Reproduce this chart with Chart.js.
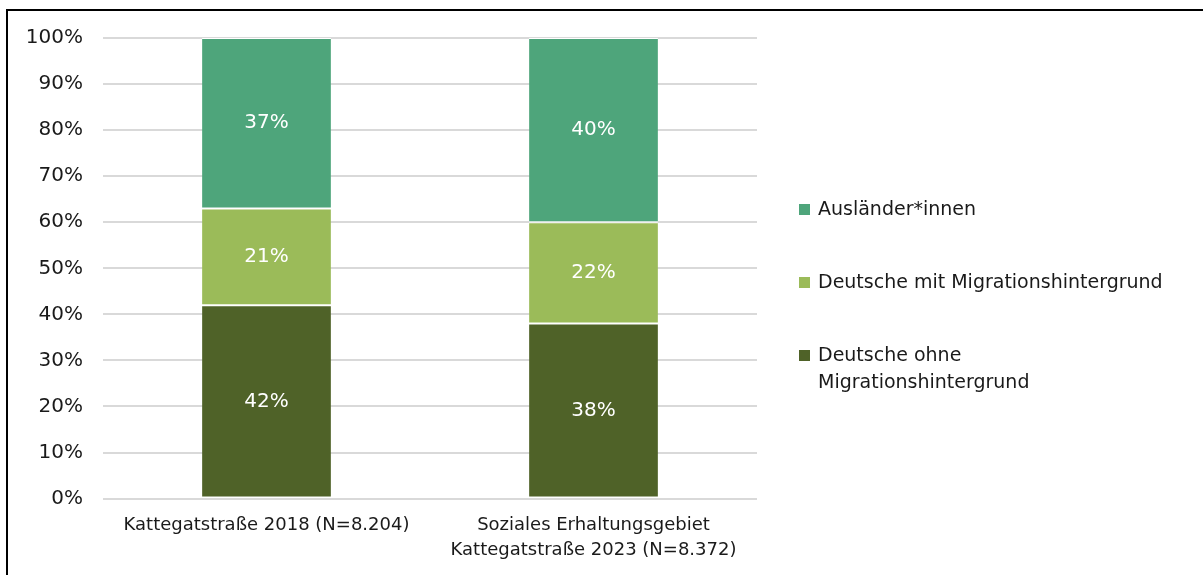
<!DOCTYPE html>
<html lang="de">
<head>
    <meta charset="UTF-8">
    <title>Bevölkerung nach Migrationshintergrund</title>
    <script src="https://cdn.jsdelivr.net/npm/chart.js"></script>
    <style>
        html, body {
            margin: 0;
            padding: 0;
            background: #ffffff;
            width: 1203px;
            height: 575px;
            overflow: hidden;
            font-family: "DejaVu Sans", sans-serif;
        }
        .frame {
            position: absolute;
            left: 6px;
            top: 9px;
            width: 1300px;
            height: 700px;
            border-top: 2px solid #000;
            border-left: 2px solid #000;
        }
        .chart-box {
            position: absolute;
            left: 0;
            top: 0;
            width: 1203px;
            height: 575px;
        }
        #legend {
            position: absolute;
            left: 799px;
            top: 195px;
            font-size: 19px;
            color: #1a1a1a;
        }
        #legend .item {
            display: flex;
            align-items: flex-start;
            margin-bottom: 46px;
            line-height: 27px;
        }
        #legend .box {
            width: 11px;
            height: 11px;
            margin-top: 9px;
            margin-right: 8px;
            flex: none;
        }
    </style>
</head>
<body>
    <div class="frame"></div>
    <div class="chart-box">
        <canvas id="chart" width="1203" height="575"></canvas>
    </div>
    <div id="legend"></div>

    <script>
        // Data
        const categories = [
            ['Kattegatstraße 2018 (N=8.204)'],
            ['Soziales Erhaltungsgebiet', 'Kattegatstraße 2023 (N=8.372)']
        ];
        const ohneMigration = [42, 38];
        const mitMigration = [21, 22];
        const auslaender = [37, 40];
        const yTicks = [0, 10, 20, 30, 40, 50, 60, 70, 80, 90, 100];

        const seriesNames = ['Deutsche ohne Migrationshintergrund', 'Deutsche mit Migrationshintergrund', 'Ausländer*innen'];
        const seriesColors = ['#4f6228', '#9bbb59', '#4ea57b'];
        const legendTexts = [['Deutsche ohne', 'Migrationshintergrund'], ['Deutsche mit Migrationshintergrund'], ['Ausländer*innen']];

        const fontFamily = '"DejaVu Sans", sans-serif';

        // Draws the value labels in the middle of each segment
        const segmentLabels = {
            id: 'segmentLabels',
            afterDatasetsDraw(chart) {
                const ctx = chart.ctx;
                ctx.save();
                ctx.fillStyle = '#ffffff';
                ctx.font = '20px ' + fontFamily;
                ctx.textAlign = 'center';
                ctx.textBaseline = 'middle';
                chart.data.datasets.forEach((ds, i) => {
                    chart.getDatasetMeta(i).data.forEach((bar, j) => {
                        const mid = (bar.y + bar.base) / 2;
                        ctx.fillText(ds.data[j] + '%', bar.x, mid);
                    });
                });
                ctx.restore();
            }
        };

        const allSeries = [ohneMigration, mitMigration, auslaender];

        const chart = new Chart(document.getElementById('chart'), {
            type: 'bar',
            data: {
                labels: categories,
                datasets: allSeries.map((values, i) => ({
                    label: seriesNames[i],
                    data: values,
                    backgroundColor: seriesColors[i],
                    borderColor: '#ffffff',
                    borderWidth: { top: 1, bottom: 1, left: 0, right: 0 },
                    borderSkipped: false,
                    categoryPercentage: 1,
                    barPercentage: 0.394
                }))
            },
            options: {
                responsive: false,
                animation: false,
                layout: {
                    padding: { top: 38, right: 446, bottom: 6, left: 0 }
                },
                plugins: {
                    legend: { display: false },
                    tooltip: { enabled: false }
                },
                scales: {
                    x: {
                        stacked: true,
                        grid: { display: false },
                        border: { display: false },
                        ticks: {
                            color: '#1a1a1a',
                            font: { size: 18, family: fontFamily, lineHeight: 1.4 },
                            padding: 6,
                            maxRotation: 0
                        }
                    },
                    y: {
                        stacked: true,
                        min: 0,
                        max: 100,
                        afterFit(scale) { scale.width = 103; },
                        afterBuildTicks(scale) {
                            scale.ticks = yTicks.map(v => ({ value: v }));
                        },
                        grid: {
                            color: '#d9d9d9',
                            lineWidth: 2,
                            drawTicks: false
                        },
                        border: { display: false },
                        ticks: {
                            color: '#1a1a1a',
                            font: { size: 20, family: fontFamily },
                            padding: 20,
                            callback: v => v + '%'
                        }
                    }
                }
            },
            plugins: [segmentLabels]
        });

        // Legend, top to bottom in reverse stacking order
        const legend = document.getElementById('legend');
        for (let i = seriesNames.length - 1; i >= 0; i--) {
            const item = document.createElement('div');
            item.className = 'item';
            const box = document.createElement('div');
            box.className = 'box';
            box.style.background = seriesColors[i];
            const text = document.createElement('div');
            text.innerHTML = legendTexts[i].join('<br>');
            item.appendChild(box);
            item.appendChild(text);
            legend.appendChild(item);
        }
    </script>
</body>
</html>
